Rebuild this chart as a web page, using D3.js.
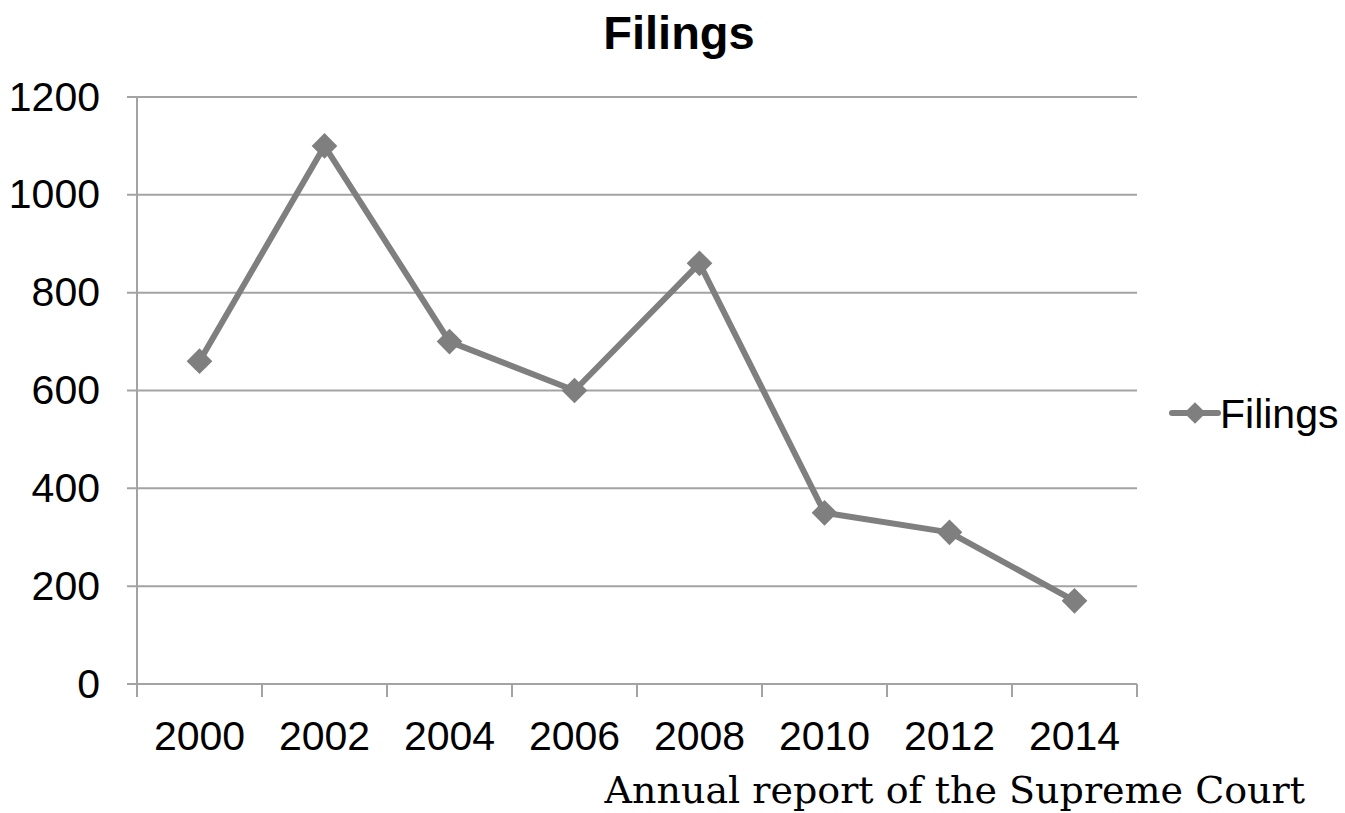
<!DOCTYPE html>
<html>
<head>
<meta charset="utf-8">
<script src="https://cdn.jsdelivr.net/npm/d3@7"></script>
<style>
body { margin: 0; background: #fff; }
text { font-family: "Liberation Sans", Arial, sans-serif; }
</style>
</head>
<body>
<script>
// data
var years = ["2000", "2002", "2004", "2006", "2008", "2010", "2012", "2014"];
var filings = [660, 1100, 700, 600, 860, 350, 310, 170];
var yTicks = [0, 200, 400, 600, 800, 1000, 1200];

var width = 1345, height = 813;
var margin = {left: 137, right: 208, top: 97, bottom: 129};
var gray = "#7f7f7f", gridColor = "#a3a3a3";

var svg = d3.select("body").append("svg")
	.attr("width", width)
	.attr("height", height);

var x = d3.scaleBand().domain(years).range([margin.left, width - margin.right]);
var y = d3.scaleLinear().domain([0, 1200]).range([height - margin.bottom, margin.top]);

// gridlines
svg.append("g").selectAll("line").data(yTicks).enter().append("line")
	.attr("x1", margin.left - 10).attr("x2", width - margin.right)
	.attr("y1", function(d){return y(d);}).attr("y2", function(d){return y(d);})
	.attr("stroke", gridColor).attr("stroke-width", 2);

// y axis
var yAxis = svg.append("g")
	.attr("transform", "translate(" + margin.left + ",0)")
	.call(d3.axisLeft(y).tickValues(yTicks).tickFormat(d3.format("d")).tickSize(0).tickPadding(37));
yAxis.select(".domain").remove();
yAxis.selectAll("text").style("font-size", "41px").attr("fill", "#000");
svg.append("line")
	.attr("x1", margin.left).attr("x2", margin.left)
	.attr("y1", margin.top).attr("y2", y(0))
	.attr("stroke", gridColor).attr("stroke-width", 2);

// x axis: ticks between categories
var xAxis = svg.append("g")
	.attr("transform", "translate(0," + y(0) + ")")
	.call(d3.axisBottom(x).tickSize(0).tickPadding(37));
xAxis.select(".domain").remove();
xAxis.selectAll("text").style("font-size", "41px").attr("fill", "#000");
var bounds = years.map(function(d){return x(d);}).concat([x(years[years.length - 1]) + x.bandwidth()]);
svg.append("g").selectAll("line").data(bounds).enter().append("line")
	.attr("x1", function(d){return d;}).attr("x2", function(d){return d;})
	.attr("y1", y(0)).attr("y2", y(0) + 13)
	.attr("stroke", gridColor).attr("stroke-width", 2);

// series line
var line = d3.line()
	.x(function(d, i){return x(years[i]) + x.bandwidth() / 2;})
	.y(function(d){return y(d);});
svg.append("path").datum(filings)
	.attr("d", line)
	.attr("fill", "none").attr("stroke", gray).attr("stroke-width", 6)
	.attr("stroke-linejoin", "round");

var diamond = d3.symbol().type(d3.symbolDiamond2).size(420);
svg.append("g").selectAll("path").data(filings).enter().append("path")
	.attr("d", diamond)
	.attr("transform", function(d, i){return "translate(" + (x(years[i]) + x.bandwidth() / 2) + "," + y(d) + ")";})
	.attr("fill", gray);

// title
svg.append("text")
	.attr("x", 679).attr("y", 49)
	.attr("text-anchor", "middle")
	.style("font-size", "47px").style("font-weight", "bold")
	.text("Filings");

// legend
var lg = svg.append("g").attr("transform", "translate(1172,413)");
lg.append("line").attr("x1", 0).attr("x2", 46).attr("y1", 0).attr("y2", 0)
	.attr("stroke", gray).attr("stroke-width", 6).attr("stroke-linecap", "round");
lg.append("path").attr("d", d3.symbol().type(d3.symbolDiamond2).size(300)).attr("transform", "translate(23,0)").attr("fill", gray);
lg.append("text").attr("x", 48).attr("y", 15)
	.style("font-size", "41px").text("Filings");

// source note
svg.append("text")
	.attr("x", 1305).attr("y", 803)
	.attr("text-anchor", "end")
	.style("font-family", "'DejaVu Serif', 'Liberation Serif', serif")
	.style("font-size", "38px")
	.text("Annual report of the Supreme Court");
</script>
</body>
</html>
